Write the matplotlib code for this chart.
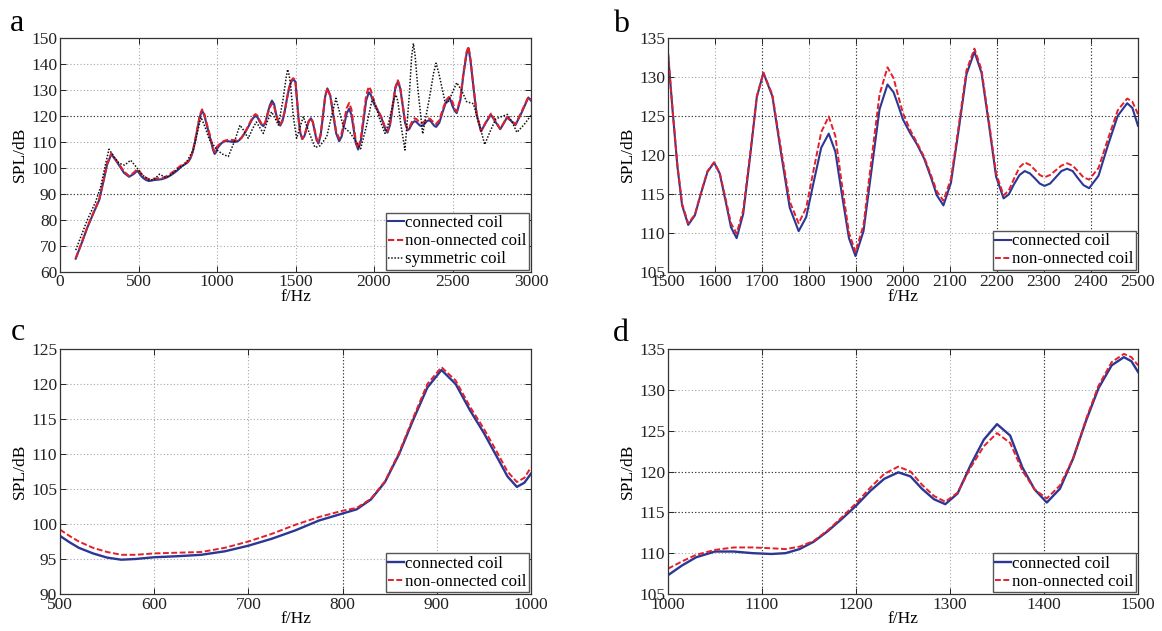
import matplotlib
matplotlib.use("Agg")
import matplotlib.pyplot as plt
import numpy as np

plt.rcParams['font.family'] = ['Liberation Serif', 'DejaVu Serif']

# ---------------- data ----------------
# panel b (1500-2500 Hz)
freq_b = [1500, 1510, 1520, 1530, 1543, 1557, 1570, 1584, 1598, 1610, 1622, 1634, 1646,
          1660, 1675, 1689, 1703, 1722, 1740, 1759, 1778, 1794, 1810, 1826, 1842, 1856,
          1870, 1885, 1899, 1916, 1933, 1950, 1967, 1980, 1990, 2000, 2015, 2030, 2045,
          2060, 2072, 2086, 2102, 2119, 2135, 2152, 2167, 2183, 2198, 2214, 2225, 2236,
          2248, 2259, 2270, 2280, 2291, 2301, 2313, 2325, 2337, 2349, 2361, 2372, 2384,
          2396, 2416, 2436, 2457, 2477, 2488, 2500]
conn_b = [133.0, 125.5, 118.5, 113.5, 111.0, 112.2, 115.0, 117.8, 119.0, 117.6, 114.2, 110.7, 109.3,
          112.4, 119.9, 127.4, 130.5, 127.5, 120.4, 113.2, 110.2, 112.0, 116.5, 120.9, 122.7, 120.4,
          114.9, 109.3, 107.0, 110.2, 118.0, 125.8, 129.0, 128.0, 126.3, 124.5, 122.8, 121.3, 119.5,
          117.0, 114.8, 113.5, 116.4, 123.4, 130.3, 133.2, 130.5, 123.8, 117.2, 114.4, 114.9, 116.2,
          117.4, 117.9, 117.6, 117.0, 116.3, 116.0, 116.3, 117.1, 117.9, 118.2, 117.9, 117.0, 116.1,
          115.7, 117.3, 121.2, 125.0, 126.6, 126.0, 123.7]
nonconn_b = [133.0, 125.6, 118.7, 113.7, 111.2, 112.3, 115.1, 117.9, 119.0, 117.7, 114.5, 111.2, 109.9,
             112.9, 120.2, 127.5, 130.5, 127.7, 120.9, 114.0, 111.2, 113.2, 118.1, 122.9, 124.9, 122.4,
             116.2, 110.0, 107.5, 111.0, 119.4, 127.7, 131.2, 129.8, 127.5, 125.3, 123.2, 121.5, 119.7,
             117.3, 115.3, 114.1, 116.9, 123.9, 130.8, 133.6, 130.9, 124.2, 117.6, 114.8, 115.4, 116.9,
             118.4, 119.0, 118.7, 118.1, 117.4, 117.1, 117.4, 118.0, 118.6, 118.9, 118.6, 117.9, 117.1,
             116.8, 118.3, 122.0, 125.7, 127.2, 126.8, 125.2]

# panel c (500-1000 Hz)
freq_c = [500, 510, 520, 535, 550, 565, 580, 600, 625, 650, 675, 700, 725, 750, 775, 800,
          815, 830, 845, 860, 875, 890, 905, 920, 935, 950, 965, 975, 985, 993, 1000]
conn_c = [98.3, 97.4, 96.6, 95.8, 95.2, 94.9, 95.0, 95.25, 95.4, 95.6, 96.1, 96.9, 97.9, 99.1, 100.5, 101.5,
          102.1, 103.5, 106.0, 110.0, 114.9, 119.5, 122.0, 120.0, 116.3, 113.0, 109.3, 106.8, 105.3, 105.9, 107.2]
nonconn_c = [99.2, 98.3, 97.5, 96.6, 96.0, 95.6, 95.6, 95.8, 95.9, 96.0, 96.6, 97.5, 98.6, 99.9, 101.0, 101.9,
             102.3, 103.6, 106.1, 110.2, 115.2, 120.0, 122.4, 120.5, 116.8, 113.6, 110.0, 107.5, 106.0, 106.6, 108.1]

# panel d (1000-1500 Hz)
freq_d = [1000, 1015, 1030, 1050, 1070, 1090, 1110, 1125, 1140, 1155, 1170, 1185, 1200, 1215, 1230,
          1245, 1258, 1270, 1283, 1295, 1308, 1322, 1336, 1350, 1364, 1377, 1390, 1403, 1417, 1431,
          1445, 1458, 1472, 1485, 1493, 1500]
conn_d = [107.3, 108.5, 109.5, 110.2, 110.2, 110.0, 109.9, 110.0, 110.5, 111.4, 112.7, 114.2, 115.8, 117.6, 119.1,
          119.9, 119.4, 117.9, 116.6, 116.0, 117.3, 120.8, 123.9, 125.8, 124.4, 120.5, 117.8, 116.2, 117.9, 121.6,
          126.3, 130.2, 133.0, 134.0, 133.5, 132.2]
nonconn_d = [108.1, 109.0, 109.8, 110.4, 110.7, 110.7, 110.6, 110.5, 110.8, 111.5, 112.8, 114.4, 116.1, 118.0, 119.7,
             120.6, 120.0, 118.4, 117.0, 116.3, 117.4, 120.5, 123.1, 124.7, 123.5, 120.1, 117.8, 116.7, 118.3, 121.6,
             126.5, 130.5, 133.4, 134.4, 134.0, 133.0]

# panel a extra ranges (100-500 Hz and 2500-3000 Hz)
freq_lo = [100, 140, 175, 215, 250, 280, 300, 327, 365, 408, 440, 470, 492]
conn_lo = [65.0, 71.3, 77.1, 82.8, 87.6, 95.6, 101.2, 105.2, 102.0, 98.0, 96.5, 97.6, 98.8]
nonconn_lo = [65.2, 71.5, 77.3, 83.0, 87.8, 95.9, 101.5, 105.5, 102.3, 98.5, 96.8, 98.1, 99.4]

freq_hi = [2515, 2527, 2550, 2570, 2590, 2602, 2615, 2635, 2655, 2682, 2713, 2745, 2775, 2804,
           2825, 2847, 2875, 2901, 2942, 2983, 3000]
conn_hi = [121.8, 121.0, 126.0, 136.0, 144.0, 146.0, 141.0, 130.0, 120.0, 114.0, 117.4, 120.4, 117.5, 114.8,
           116.9, 119.3, 117.9, 116.4, 121.4, 127.0, 125.8]
nonconn_hi = [122.6, 121.5, 126.5, 136.5, 144.6, 146.6, 141.5, 130.5, 120.3, 114.0, 117.6, 120.8, 117.8, 115.0,
              117.1, 119.5, 118.1, 116.7, 121.8, 127.2, 126.0]

# symmetric coil (panel a)
freq_sym = [100, 174, 227, 259, 291, 312, 344, 376, 412, 450,
            492, 524, 567, 599, 633, 675, 700, 750, 800, 850,
            875, 898, 925, 950, 1000, 1036, 1072, 1115, 1146, 1168,
            1199, 1225, 1250, 1272, 1295, 1322, 1348, 1370, 1391, 1420,
            1440, 1450, 1460, 1470, 1486, 1507, 1528, 1550, 1587, 1624,
            1656, 1699, 1728, 1758, 1782, 1805, 1847, 1880, 1915, 1950,
            1985, 1998, 2020, 2038, 2070, 2092, 2112, 2128, 2140, 2152,
            2170, 2197, 2225, 2240, 2251, 2262, 2280, 2310, 2352, 2380,
            2395, 2410, 2425, 2452, 2470, 2500, 2527, 2560, 2590, 2633,
            2675, 2705, 2740, 2776, 2850, 2880, 2910, 2955, 3000]
sym = [68.3, 79.9, 86.9, 92.7, 101.7, 107.1, 104.2, 101.7, 101.0, 102.9,
       99.8, 97.2, 95.3, 95.4, 97.5, 96.2, 97.0, 99.6, 101.5, 107.0,
       113.5, 119.4, 115.5, 111.0, 106.8, 105.2, 104.3, 110.7, 116.4, 114.5,
       111.3, 114.8, 117.6, 115.5, 113.2, 118.0, 121.5, 119.0, 116.4, 126.0,
       134.5, 137.8, 135.5, 131.0, 119.6, 111.3, 115.5, 119.6, 113.5, 107.8,
       108.4, 111.9, 119.5, 126.7, 121.0, 115.8, 113.5, 110.5, 107.3, 115.5,
       125.4, 126.2, 122.0, 118.3, 113.2, 117.0, 122.2, 126.5, 128.0, 125.5,
       117.0, 106.8, 128.0, 143.0, 147.8, 143.0, 130.0, 113.0, 126.5, 136.5,
       140.2, 137.0, 133.0, 125.4, 124.8, 129.0, 132.7, 129.5, 125.4, 124.6,
       115.8, 108.9, 114.0, 118.8, 120.5, 117.5, 113.6, 116.5, 120.1]

# full-range series for panel a, assembled from the pieces above
freq_a = freq_lo + freq_c[:-1] + freq_d[:-1] + freq_b + freq_hi
conn_a = conn_lo + conn_c[:-1] + conn_d[:-1] + conn_b + conn_hi
nonconn_a = nonconn_lo + nonconn_c[:-1] + nonconn_d[:-1] + nonconn_b + nonconn_hi

labels = ['connected coil', 'non-onnected coil', 'symmetric coil']

BLUE = '#2b3794'
RED = '#e3202a'
FS = 12.5

fig = plt.figure(figsize=(11.62, 6.31), dpi=100)
W, H = 1162, 631


def make_ax(l, r, t, b):
    return fig.add_axes([l / W, 1 - b / H, (r - l) / W, (b - t) / H])


def style(ax, xlim, xticks, ylim, yticks, dark_x=(), dark_y=()):
    ax.set_xlim(*xlim)
    ax.set_ylim(*ylim)
    ax.set_xticks(xticks)
    ax.set_yticks(yticks)
    ax.grid(True, color='#a8a8a8', linestyle=(0, (1, 2)), linewidth=0.8)
    for v in dark_x:
        ax.axvline(v, color='#303030', linestyle=(0, (1, 2)), linewidth=0.8, zorder=0.6)
    for v in dark_y:
        ax.axhline(v, color='#303030', linestyle=(0, (1, 2)), linewidth=0.8, zorder=0.6)
    ax.set_axisbelow(True)
    ax.tick_params(direction='in', length=4, width=0.7, top=True, right=True,
                   labelsize=FS, pad=2, colors='#222222')
    for s in ax.spines.values():
        s.set_linewidth(0.9)
        s.set_color('#333333')
    ax.set_xlabel('f/Hz', fontsize=FS, labelpad=-1)
    ax.set_ylabel('SPL/dB', fontsize=FS, labelpad=2)


def legend(ax):
    leg = ax.legend(loc='lower right', fontsize=12.2, handlelength=0.9, handletextpad=0.1,
                    borderpad=0.15, labelspacing=0.12, borderaxespad=0.1, fancybox=False,
                    framealpha=1, edgecolor='#555555')
    leg.get_frame().set_linewidth(1.0)


dash = (0, (3.0, 1.3))

# ---- panel a ----
ax = make_ax(60, 531, 37.7, 271.7)
ax.plot(freq_a, conn_a, color=BLUE, lw=1.5, label=labels[0])
ax.plot(freq_a, nonconn_a, color=RED, lw=1.5, ls=dash, label=labels[1])
ax.plot(freq_sym, sym, color='#111111', lw=1.1, ls=(0, (1, 1.1)), label=labels[2])
style(ax, (0, 3000), np.arange(0, 3001, 500), (60, 150), np.arange(60, 151, 10),
      dark_y=[120, 90])
legend(ax)

# ---- panel b ----
ax = make_ax(668, 1138, 37.7, 271.7)
ax.plot(freq_b, conn_b, color=BLUE, lw=1.5, label=labels[0])
ax.plot(freq_b, nonconn_b, color=RED, lw=1.4, ls=dash, label=labels[1])
style(ax, (1500, 2500), np.arange(1500, 2501, 100), (105, 135), np.arange(105, 136, 5),
      dark_x=[1700, 1900, 2200, 2400], dark_y=[125, 115])
legend(ax)

# ---- panel c ----
ax = make_ax(60, 531, 349, 594)
ax.plot(freq_c, conn_c, color=BLUE, lw=1.7, label=labels[0])
ax.plot(freq_c, nonconn_c, color=RED, lw=1.4, ls=dash, label=labels[1])
style(ax, (500, 1000), np.arange(500, 1001, 100), (90, 125), np.arange(90, 126, 5),
      dark_x=[800])
legend(ax)

# ---- panel d ----
ax = make_ax(668, 1138, 349, 594)
ax.plot(freq_d, conn_d, color=BLUE, lw=1.7, label=labels[0])
ax.plot(freq_d, nonconn_d, color=RED, lw=1.4, ls=dash, label=labels[1])
style(ax, (1000, 1500), np.arange(1000, 1501, 100), (105, 135), np.arange(105, 136, 5),
      dark_x=[1100, 1200, 1400], dark_y=[120, 115])
legend(ax)

# panel letters
for txt, x, y in [('a', 10, 31), ('b', 613, 32), ('c', 11, 340), ('d', 613, 341)]:
    fig.text(x / W, 1 - y / H, txt, fontsize=23, ha='left', va='baseline')

fig.savefig('out.png', dpi=100, facecolor='white')
